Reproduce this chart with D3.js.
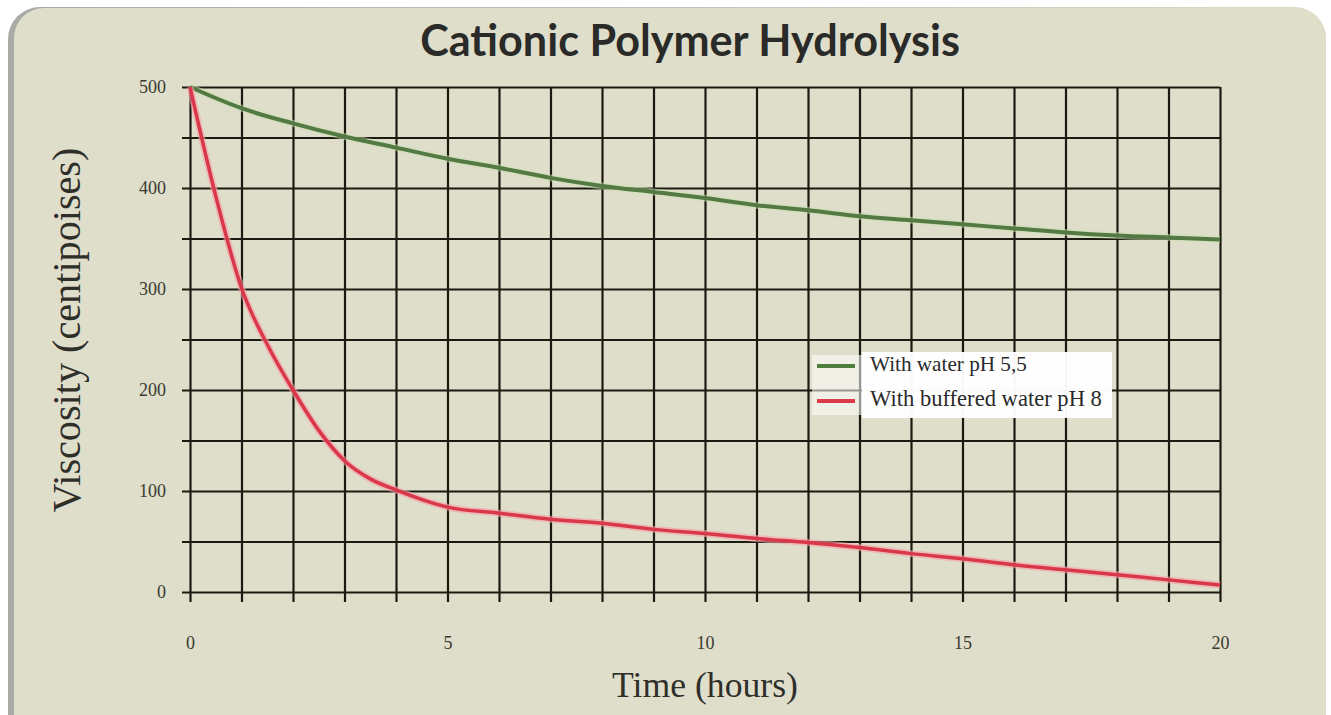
<!DOCTYPE html>
<html><head><meta charset="utf-8">
<script src="https://cdn.jsdelivr.net/npm/d3@7"></script>
<style>html,body{margin:0;padding:0;background:#fff;}svg{display:block;}</style>
</head><body>
<svg id="c" width="1331" height="715"></svg>
<script>
const title = "Cationic Polymer Hydrolysis";
const xTitle = "Time (hours)";
const yTitle = "Viscosity (centipoises)";
const seriesNames = ["With water pH 5,5", "With buffered water pH 8"];
const xTickLabels = [0, 5, 10, 15, 20];
const yTickLabels = [0, 100, 200, 300, 400, 500];
const greenHours = [0,1,2,3,4,5,6,7,8,9,10,11,12,13,14,15,16,17,18,19,20];
const greenVisc  = [500,479,464,451,440,429,420,410,402,396,390,383,378,372,368,364,360,356,353,351,349];
const redHours = [0,0.5,1,1.5,2,2.5,3,3.5,4,5,6,7,8,9,10,11,12,13,14,15,16,17,18,19,20];
const redVisc  = [500,392,301,245,200,160,130,112,101,84,78,72,68,62,58,53,49,44,38,33,27,22,17,12,7];

const svg = d3.select("#c");
// background panel
const defs = svg.append("defs");
const lg = defs.append("linearGradient").attr("id","shadow").attr("x1","0").attr("x2","1").attr("y1","0").attr("y2","0");
lg.append("stop").attr("offset","0").attr("stop-color","#a9a9a6");
lg.append("stop").attr("offset","1").attr("stop-color","#dcdbc9");
svg.append("rect").attr("x",8).attr("y",7).attr("width",1318).attr("height",760).attr("rx",32).attr("fill","url(#shadow)");
svg.append("rect").attr("x",14).attr("y",8).attr("width",1312).attr("height",760).attr("rx",30).attr("fill","#dfdecb");

const X0 = 190, X1 = 1220, Y0 = 592, Y1 = 87;
const x = d3.scaleLinear().domain([0,20]).range([X0,X1]);
const y = d3.scaleLinear().domain([0,500]).range([Y0,Y1]);

const gridColor = "#1b1a10";
// vertical grid
const gx = svg.append("g").attr("transform",`translate(0,${Y0+10})`)
  .call(d3.axisBottom(x).tickValues(d3.range(0,21)).tickSize(-(Y0-Y1+10)).tickFormat(""));
gx.select(".domain").remove();
gx.selectAll("line").attr("stroke",gridColor).attr("stroke-width",2.2);
// horizontal grid
const gy = svg.append("g").attr("transform",`translate(${X0-8},0)`)
  .call(d3.axisLeft(y).tickValues(d3.range(0,501,50)).tickSize(-(X1-X0+8)).tickFormat(""));
gy.select(".domain").remove();
gy.selectAll("line").attr("stroke",gridColor).attr("stroke-width",2.2);

// tick labels
const lx = svg.append("g").attr("transform",`translate(0,${Y0})`)
  .call(d3.axisBottom(x).tickValues(xTickLabels).tickSize(0).tickPadding(44));
lx.select(".domain").remove();
lx.selectAll("text").attr("font-family","Liberation Serif").attr("font-size",18).attr("fill","#3a3a30");
const ly = svg.append("g").attr("transform",`translate(${X0},0)`)
  .call(d3.axisLeft(y).tickValues(yTickLabels).tickSize(0).tickPadding(24));
ly.select(".domain").remove();
ly.selectAll("text").attr("font-family","Liberation Serif").attr("font-size",18).attr("fill","#3a3a30");

function fitText(sel, target){
  const w = sel.node().getComputedTextLength();
  const fs = parseFloat(sel.attr("font-size"));
  sel.attr("font-size", fs*target/w);
}

// lines
const line = d3.line().x(d=>x(d[0])).y(d=>y(d[1])).curve(d3.curveMonotoneX);
const gData = greenHours.map((h,i)=>[h,greenVisc[i]]);
const rData = redHours.map((h,i)=>[h,redVisc[i]]);
svg.append("path").datum(gData).attr("d",line).attr("fill","none").attr("stroke","#c9e0b0").attr("stroke-width",7).attr("opacity",0.5);
svg.append("path").datum(gData).attr("d",line).attr("fill","none").attr("stroke","#537a42").attr("stroke-width",4);
svg.append("path").datum(rData).attr("d",line).attr("fill","none").attr("stroke","#f7a0a8").attr("stroke-width",7).attr("opacity",0.6);
svg.append("path").datum(rData).attr("d",line).attr("fill","none").attr("stroke","#d9384a").attr("stroke-width",3.5);

// legend
svg.append("rect").attr("x",862).attr("y",352).attr("width",250).attr("height",66).attr("fill","#ffffff").attr("opacity",0.97);
svg.append("rect").attr("x",812).attr("y",355).attr("width",52).attr("height",60).attr("fill","#ffffff").attr("opacity",0.55);
const legColors = ["#4f7d3e","#dd3a4a"];
const legY = [366, 401];
seriesNames.forEach((n,i)=>{
  svg.append("line").attr("x1",817).attr("x2",855).attr("y1",legY[i]).attr("y2",legY[i]).attr("stroke",legColors[i]).attr("stroke-width",4);
  const t = svg.append("text").attr("x",870).attr("y",legY[i]+5).attr("font-family","Liberation Serif").attr("font-size",15).attr("fill","#2a2a2a").text(n);
  fitText(t, i===0 ? 157 : 232);
});

// titles
const tt = svg.append("text").attr("x",690).attr("y",56).attr("text-anchor","middle")
  .attr("font-family","Lato").attr("font-weight","bold").attr("font-size",30).attr("fill","#2a2a28").text(title);
fitText(tt, 540);
const xt = svg.append("text").attr("x",705).attr("y",697).attr("text-anchor","middle")
  .attr("font-family","Liberation Serif").attr("font-size",24).attr("fill","#2f2f2a").text(xTitle);
fitText(xt, 186);
const yt = svg.append("text").attr("transform","translate(80,330) rotate(-90)").attr("text-anchor","middle")
  .attr("font-family","Liberation Serif").attr("font-size",26).attr("fill","#2f2f2a").text(yTitle);
fitText(yt, 365);
</script>
</body></html>
